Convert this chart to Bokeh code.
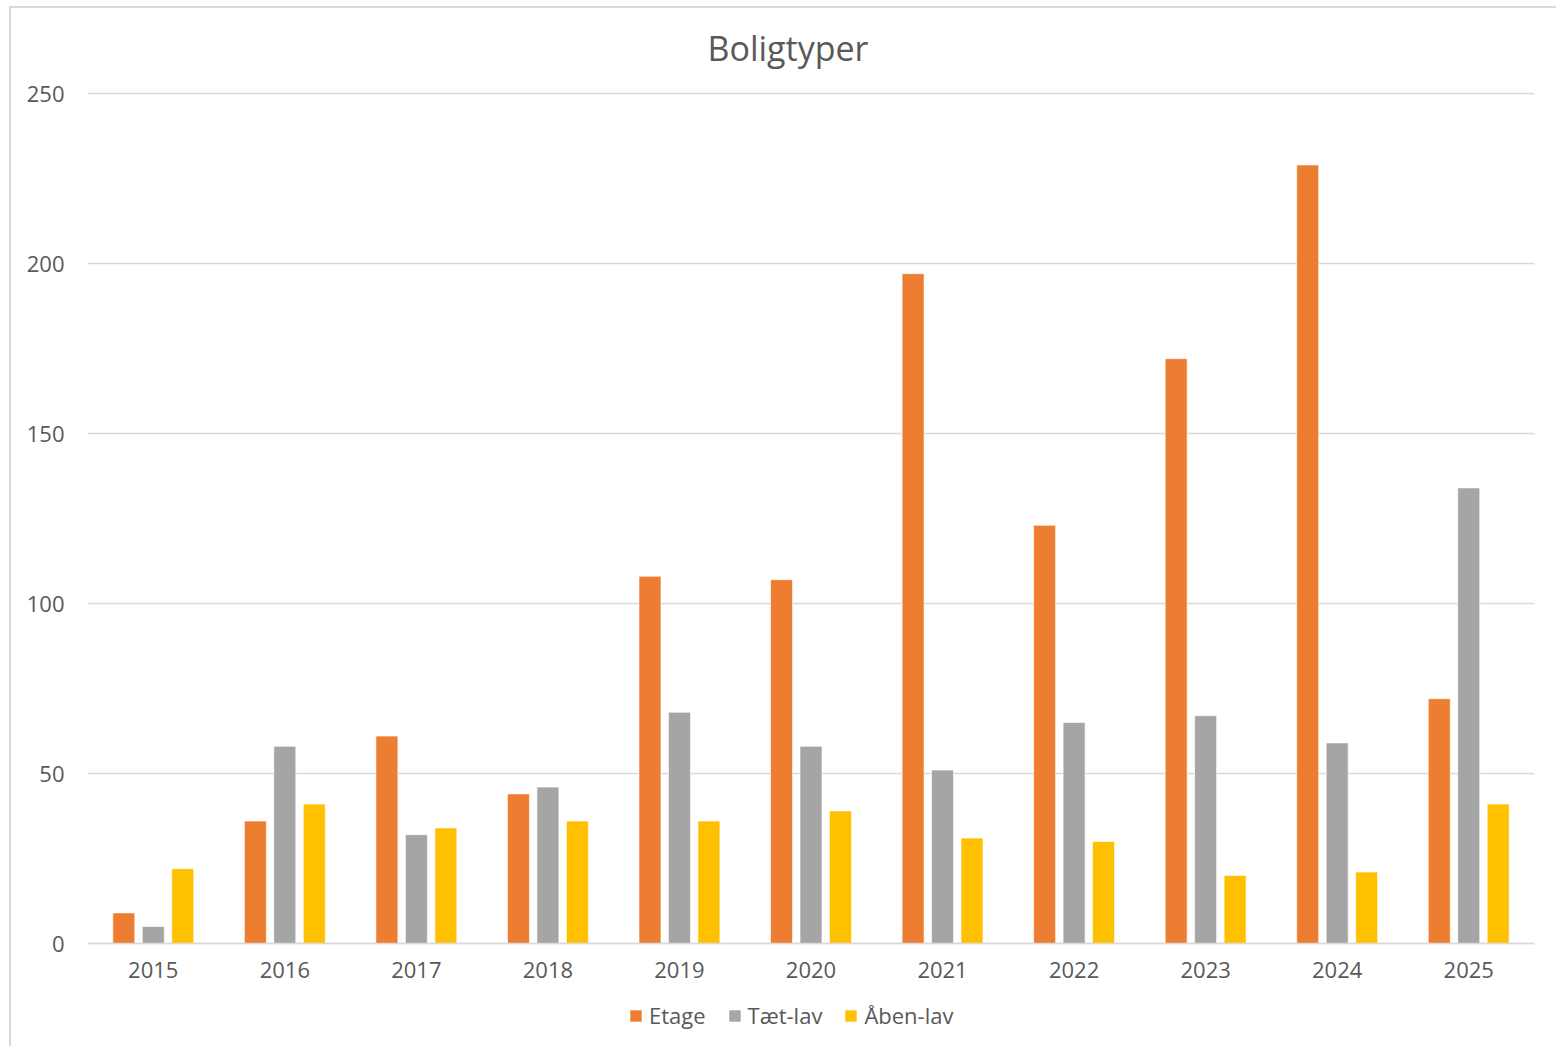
from bokeh.plotting import figure
from bokeh.models import FactorRange, Range1d, FixedTicker, ColumnDataSource, Label
from bokeh.transform import dodge
from bokeh.embed import file_html
from bokeh.resources import INLINE

title_text = "Boligtyper"
years = ["2015", "2016", "2017", "2018", "2019", "2020", "2021", "2022", "2023", "2024", "2025"]
etage = [9, 36, 61, 44, 108, 107, 197, 123, 172, 229, 72]
taet_lav = [5, 58, 32, 46, 68, 58, 51, 65, 67, 59, 134]
aaben_lav = [22, 41, 34, 36, 36, 39, 31, 30, 20, 21, 41]
series_labels = ["Etage", "Tæt-lav", "Åben-lav"]
series_colors = ["#ED7D31", "#A5A5A5", "#FFC000"]
y_ticks = [0, 50, 100, 150, 200, 250]
y_max = 250

FONT = "Open Sans"
TEXT = "#595959"

# layout (pixels)
PLOT_H = 850          # height of the 0..250 band
ABOVE = 85            # room above the 250 line for the title
BELOW = 105           # room under the zero line for labels and legend
y_lo = -y_max * BELOW / PLOT_H
y_hi = y_max + y_max * ABOVE / PLOT_H

src = ColumnDataSource(dict(year=years, etage=etage, taet=taet_lav, aaben=aaben_lav))

p = figure(
    x_range=FactorRange(factors=years, range_padding=0),
    y_range=Range1d(y_lo, y_hi),
    width=1547, height=1040,
    output_backend="svg", toolbar_location=None,
    min_border_left=76, min_border_right=24,
    min_border_top=0, min_border_bottom=0,
)
p.styles = {"margin-left": "9px", "margin-top": "6px",
            "border-left": "2px solid #D9D9D9", "border-top": "2px solid #D9D9D9"}
p.background_fill_color = "white"
p.border_fill_color = "white"
p.outline_line_color = None

# synthetic categorical coordinate of the middle of the x range
x_mid = len(years) / 2
title = Label(x=x_mid, y=y_hi, x_offset=-23, y_offset=-39,
              text=title_text, text_font=FONT, text_font_size="34px",
              text_color=TEXT, text_align="center", text_baseline="alphabetic")
p.add_layout(title)

cols = ["etage", "taet", "aaben"]
offsets = [-0.224, 0.0, 0.224]
for col, off, lab, colr in zip(cols, offsets, series_labels, series_colors):
    p.vbar(x=dodge("year", off, range=p.x_range), top=col, width=0.167, bottom=0,
           source=src, fill_color=colr, line_color="white", line_alpha=0.6, line_width=1,
           legend_label=lab)

p.yaxis.ticker = FixedTicker(ticks=y_ticks)
p.yaxis.axis_line_color = None
p.yaxis.major_tick_line_color = None
p.yaxis.minor_tick_line_color = None
p.yaxis.major_tick_out = 0
p.yaxis.major_tick_in = 0
p.yaxis.major_label_standoff = 23
p.yaxis.major_label_text_font = FONT
p.yaxis.major_label_text_font_size = "22px"
p.yaxis.major_label_text_color = TEXT

p.xaxis.fixed_location = 0
p.xaxis.axis_line_color = "#D9D9D9"
p.xaxis.axis_line_width = 1.5
p.xaxis.major_tick_line_color = None
p.xaxis.minor_tick_line_color = None
p.xaxis.major_tick_out = 0
p.xaxis.major_tick_in = 0
p.xaxis.major_label_standoff = 18
p.xaxis.major_label_text_font = FONT
p.xaxis.major_label_text_font_size = "22px"
p.xaxis.major_label_text_color = TEXT

p.xgrid.grid_line_color = None
p.ygrid.grid_line_color = "#D9D9D9"
p.ygrid.grid_line_width = 1.5

leg = p.legend[0]
leg.orientation = "horizontal"
leg.location = (541, 18)
leg.border_line_color = None
leg.background_fill_alpha = 0
leg.glyph_width = 15
leg.glyph_height = 15
leg.label_standoff = 6
leg.spacing = 21
leg.padding = 0
leg.margin = 0
leg.label_text_font = FONT
leg.label_text_font_size = "22px"
leg.label_text_color = TEXT

open("out.html", "w").write(file_html(p, INLINE))
